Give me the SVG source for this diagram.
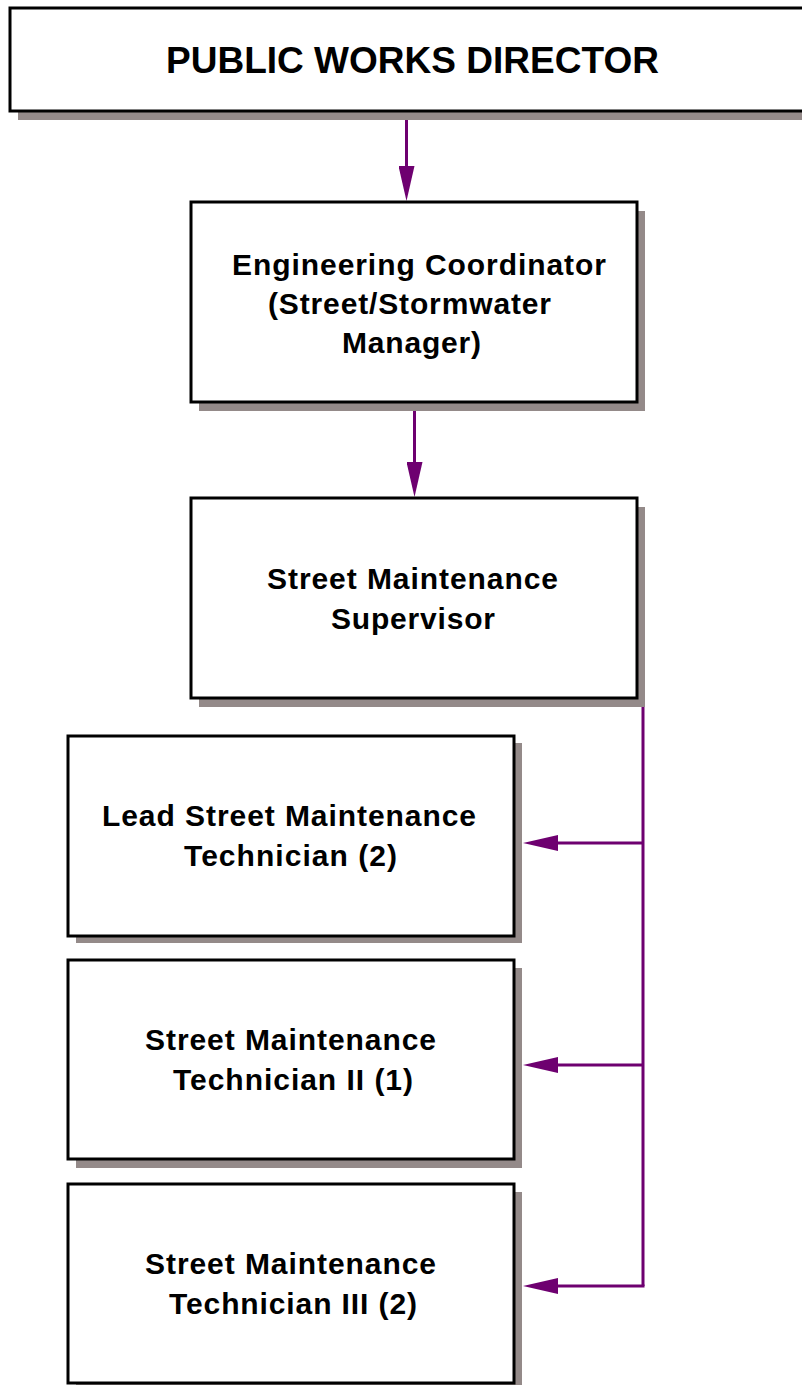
<svg xmlns="http://www.w3.org/2000/svg" width="802" height="1385" viewBox="0 0 802 1385">
  <style>
    .box { fill: #ffffff; stroke: #000000; stroke-width: 3; }
    .shadow { fill: #948a89; }
    .label { font-family: "Liberation Sans", Arial, sans-serif; font-weight: bold; font-size: 30px; fill: #000000; }
    .title { font-size: 37px; }
    .link { fill: none; stroke: #6e0070; stroke-width: 3; }
  </style>
  <defs>
    <marker id="head" viewBox="0 0 35 16" markerWidth="35" markerHeight="16" refX="0" refY="8" orient="auto" markerUnits="userSpaceOnUse">
      <path d="M0,0 L35,8 L0,16 z" fill="#6e0070"/>
    </marker>
  </defs>
  <rect width="802" height="1385" fill="#ffffff"/>

  <!-- reporting lines -->
  <g id="connectors">
    <path class="link" d="M406.5,120 V166" marker-end="url(#head)"/>
    <path class="link" d="M414.5,411 V462" marker-end="url(#head)"/>
    <path class="link" d="M643,707 V1286"/>
    <path class="link" d="M643,843 H558" marker-end="url(#head)"/>
    <path class="link" d="M643,1065 H558" marker-end="url(#head)"/>
    <path class="link" d="M644.5,1286 H558" marker-end="url(#head)"/>
  </g>

  <g id="director">
    <rect class="shadow" x="18" y="17" width="810" height="103"/>
    <rect class="box" x="10" y="8" width="810" height="103"/>
    <text class="label title" x="166" y="73" textLength="493" lengthAdjust="spacing">PUBLIC WORKS DIRECTOR</text>
  </g>

  <g id="engineering-coordinator">
    <rect class="shadow" x="199" y="211" width="446" height="200"/>
    <rect class="box" x="191" y="202" width="446" height="200"/>
    <text class="label" x="232" y="275" textLength="374" lengthAdjust="spacing">Engineering Coordinator</text>
    <text class="label" x="268" y="314" textLength="283" lengthAdjust="spacing">(Street/Stormwater</text>
    <text class="label" x="342" y="353" textLength="139" lengthAdjust="spacing">Manager)</text>
  </g>

  <g id="maintenance-supervisor">
    <rect class="shadow" x="199" y="507" width="446" height="200"/>
    <rect class="box" x="191" y="498" width="446" height="200"/>
    <text class="label" x="267" y="589" textLength="291" lengthAdjust="spacing">Street Maintenance</text>
    <text class="label" x="331" y="629" textLength="164" lengthAdjust="spacing">Supervisor</text>
  </g>

  <g id="lead-technician">
    <rect class="shadow" x="76" y="743" width="446" height="200"/>
    <rect class="box" x="68" y="736" width="446" height="200"/>
    <text class="label" x="102" y="826" textLength="374" lengthAdjust="spacing">Lead Street Maintenance</text>
    <text class="label" x="184" y="866" textLength="213" lengthAdjust="spacing">Technician (2)</text>
  </g>

  <g id="technician-ii">
    <rect class="shadow" x="76" y="968" width="446" height="200"/>
    <rect class="box" x="68" y="960" width="446" height="199"/>
    <text class="label" x="145" y="1050" textLength="291" lengthAdjust="spacing">Street Maintenance</text>
    <text class="label" x="173" y="1090" textLength="240" lengthAdjust="spacing">Technician II (1)</text>
  </g>

  <g id="technician-iii">
    <rect class="shadow" x="76" y="1192" width="446" height="200"/>
    <rect class="box" x="68" y="1184" width="446" height="199"/>
    <text class="label" x="145" y="1274" textLength="291" lengthAdjust="spacing">Street Maintenance</text>
    <text class="label" x="169" y="1314" textLength="248" lengthAdjust="spacing">Technician III (2)</text>
  </g>
</svg>
